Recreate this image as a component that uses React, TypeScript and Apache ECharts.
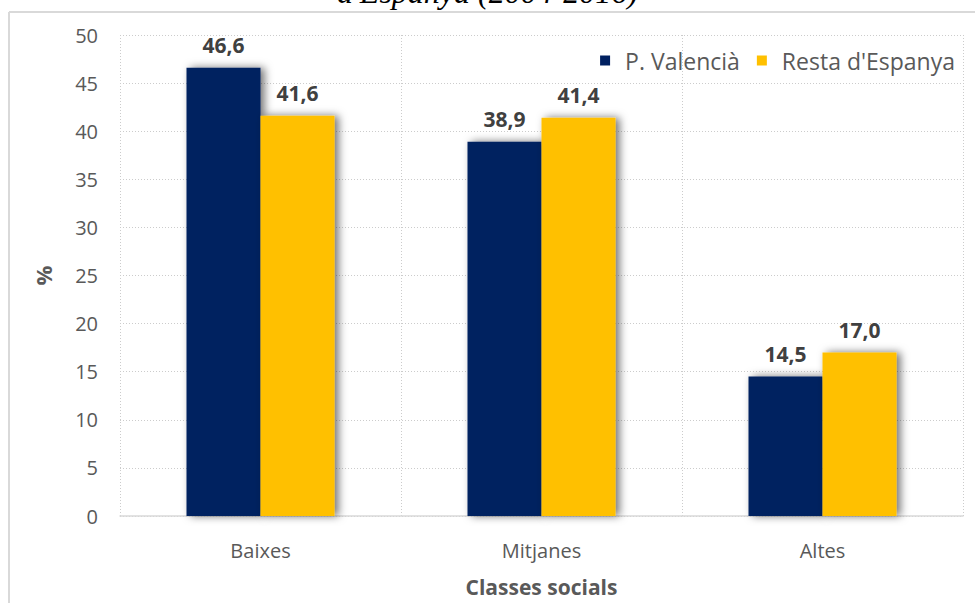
import React, { useEffect, useRef } from "react";
import * as echarts from "echarts";

const categories = ["Baixes", "Mitjanes", "Altes"];
const seriesNames = ["P. Valencià", "Resta d'Espanya"];
const valenciaValues = [46.6, 38.9, 14.5];
const restaValues = [41.6, 41.4, 17.0];
const yTicks = { min: 0, max: 50, interval: 5 };
const titleText = "d'Espanya (2004-2016)";
const xAxisTitle = "Classes socials";
const yAxisTitle = "%";

const FONT = "'Open Sans', sans-serif";
const NAVY = "#002060";
const YELLOW = "#FFC000";

export default function App() {
  const ref = useRef<HTMLDivElement>(null);
  useEffect(() => {
    if (!ref.current) return;
    const chart = echarts.init(ref.current, undefined, { renderer: "svg" });
    const label = {
      show: true,
      position: "top" as const,
      distance: 12,
      fontFamily: FONT,
      fontWeight: "bold" as const,
      fontSize: 21,
      color: "#404040",
      formatter: (p: any) => Number(p.value).toFixed(1).replace(".", ","),
    };
    const shadow = {
      shadowColor: "rgba(0,0,0,0.55)",
      shadowBlur: 9,
      shadowOffsetX: 4,
      shadowOffsetY: 0,
    };
    chart.setOption({
      animation: false,
      backgroundColor: "#ffffff",
      textStyle: { fontFamily: FONT },
      grid: { left: 120, right: 12, top: 35, bottom: 87, containLabel: false },
      legend: {
        data: seriesNames,
        right: 15,
        top: 44,
        itemWidth: 10,
        itemHeight: 10,
        itemGap: 17,
        icon: "rect",
        textStyle: {
          fontFamily: FONT,
          fontSize: 23,
          color: "#595959",
          padding: [0, 0, 0, 10],
        },
      },
      xAxis: {
        type: "category",
        data: categories,
        axisLine: { show: true, lineStyle: { color: "#d9d9d9", width: 1.5 } },
        axisTick: { show: false },
        axisLabel: { fontFamily: FONT, fontSize: 20, color: "#595959", margin: 24 },
        splitLine: { show: true, interval: 0, lineStyle: { color: "#cccccc", type: [1, 2], width: 1 } },
        name: xAxisTitle,
        nameLocation: "middle",
        nameGap: 60,
        nameTextStyle: { fontFamily: FONT, fontSize: 21, fontWeight: "bold", color: "#595959" },
      },
      yAxis: {
        type: "value",
        min: yTicks.min,
        max: yTicks.max,
        interval: yTicks.interval,
        axisLine: { show: false },
        axisTick: { show: false },
        axisLabel: { fontFamily: FONT, fontSize: 20, color: "#595959", margin: 22 },
        splitLine: { show: true, lineStyle: { color: "#cccccc", type: [1, 2], width: 1 } },
        name: yAxisTitle,
        nameLocation: "middle",
        nameGap: 66,
        nameRotate: 90,
        nameTextStyle: { fontFamily: FONT, fontSize: 22, fontWeight: "bold", color: "#595959" },
      },
      series: [
        {
          name: seriesNames[0],
          type: "bar",
          data: valenciaValues,
          barWidth: 74,
          barGap: "0%",
          itemStyle: { color: NAVY, ...shadow },
          label,
        },
        {
          name: seriesNames[1],
          type: "bar",
          data: restaValues,
          barWidth: 74,
          barGap: "0%",
          itemStyle: { color: YELLOW, ...shadow },
          label,
        },
      ],
      graphic: [
        {
          type: "text",
          left: "center",
          top: -24,
          style: {
            text: titleText,
            font: "italic 32px 'Liberation Serif', 'Times New Roman', serif",
            fill: "#000000",
          },
        },
        {
          type: "line",
          shape: { x1: 9, y1: 12, x2: 975, y2: 12 },
          style: { stroke: "#d9d9d9", lineWidth: 2 },
        },
        {
          type: "line",
          shape: { x1: 9, y1: 12, x2: 9, y2: 603 },
          style: { stroke: "#d9d9d9", lineWidth: 2 },
        },
      ],
    });
    return () => chart.dispose();
  }, []);
  return (
    <div
      ref={ref}
      style={{ position: "fixed", left: 0, top: 0, width: 975, height: 603 }}
    />
  );
}
